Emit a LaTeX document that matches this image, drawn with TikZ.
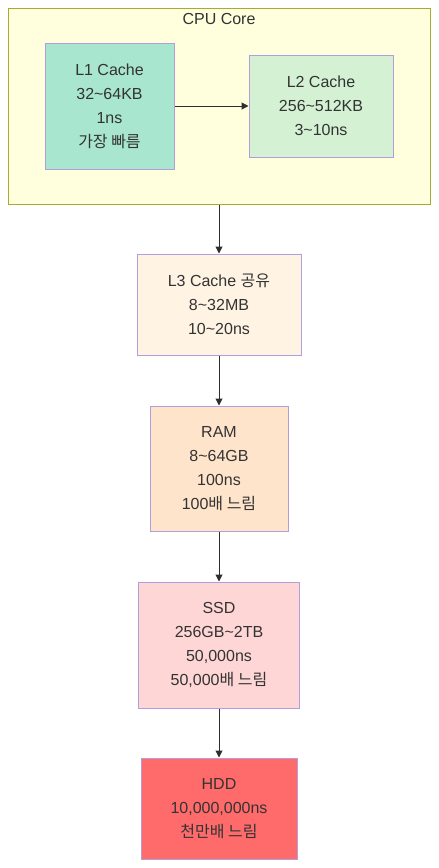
\documentclass[tikz,border=0pt]{standalone}
\usepackage{fontspec}
\setmainfont{Liberation Sans}
\newfontfamily\kr{Noto Sans CJK KR}
\usetikzlibrary{arrows.meta}
\definecolor{txt}{HTML}{333333}
\definecolor{cpufill}{HTML}{FFFFDE}
\definecolor{cpustroke}{HTML}{AAAA33}
\definecolor{nstroke}{HTML}{B39DDB}
\definecolor{lonefill}{HTML}{A8E6CF}
\definecolor{ltwofill}{HTML}{D4F1D4}
\definecolor{lthreefill}{HTML}{FFF3E3}
\definecolor{ramfill}{HTML}{FFE4CC}
\definecolor{ssdfill}{HTML}{FFD6D6}
\definecolor{hddfill}{HTML}{FF6B6B}
\begin{document}
\begin{tikzpicture}[x=1pt,y=-1pt,
  box/.style={draw=nstroke,line width=1pt,text=txt,align=center,inner sep=0pt,
    font=\fontsize{16}{24}\selectfont},
  conn/.style={draw=txt!90!black,line width=1pt,-{Triangle[length=7pt,width=7pt]}}]
\useasboundingbox (0,0) rectangle (439,868);
\fill[white] (0,0) rectangle (439,868);
\node[draw=cpustroke,fill=cpufill,line width=1pt,minimum width=422pt,minimum height=196pt,inner sep=0pt] (cpu) at (219,106) {};
\node[text=txt,font=\fontsize{16}{24}\selectfont] (cpulbl) at (219,19) {CPU Core};
\node[box,fill=lonefill,minimum width=129pt,minimum height=126pt] (l1) at (109.5,106)
  {L1 Cache\\32\textasciitilde64KB\\1ns\\{\kr 가장 빠름}};
\node[box,fill=ltwofill,minimum width=144pt,minimum height=102pt] (l2) at (321,106)
  {L2 Cache\\256\textasciitilde512KB\\3\textasciitilde10ns};
\node[box,fill=lthreefill,minimum width=164pt,minimum height=101pt] (l3) at (219,304.5)
  {L3 Cache {\kr 공유}\\8\textasciitilde32MB\\10\textasciitilde20ns};
\node[box,fill=ramfill,minimum width=138pt,minimum height=125pt] (ram) at (219,468.5)
  {RAM\\8\textasciitilde64GB\\100ns\\100{\kr 배 느림}};
\node[box,fill=ssdfill,minimum width=161pt,minimum height=126pt] (ssd) at (219,645)
  {SSD\\256GB\textasciitilde2TB\\50,000ns\\50,000{\kr 배 느림}};
\node[box,fill=hddfill,minimum width=156pt,minimum height=101pt] (hdd) at (219,808.5)
  {HDD\\10,000,000ns\\{\kr 천만배 느림}};
\draw[conn] (l1) -- (l2);
\draw[conn] (cpu.south) -- (l3.north);
\draw[conn] (l3) -- (ram);
\draw[conn] (ram) -- (ssd);
\draw[conn] (ssd) -- (hdd);
\end{tikzpicture}
\end{document}
